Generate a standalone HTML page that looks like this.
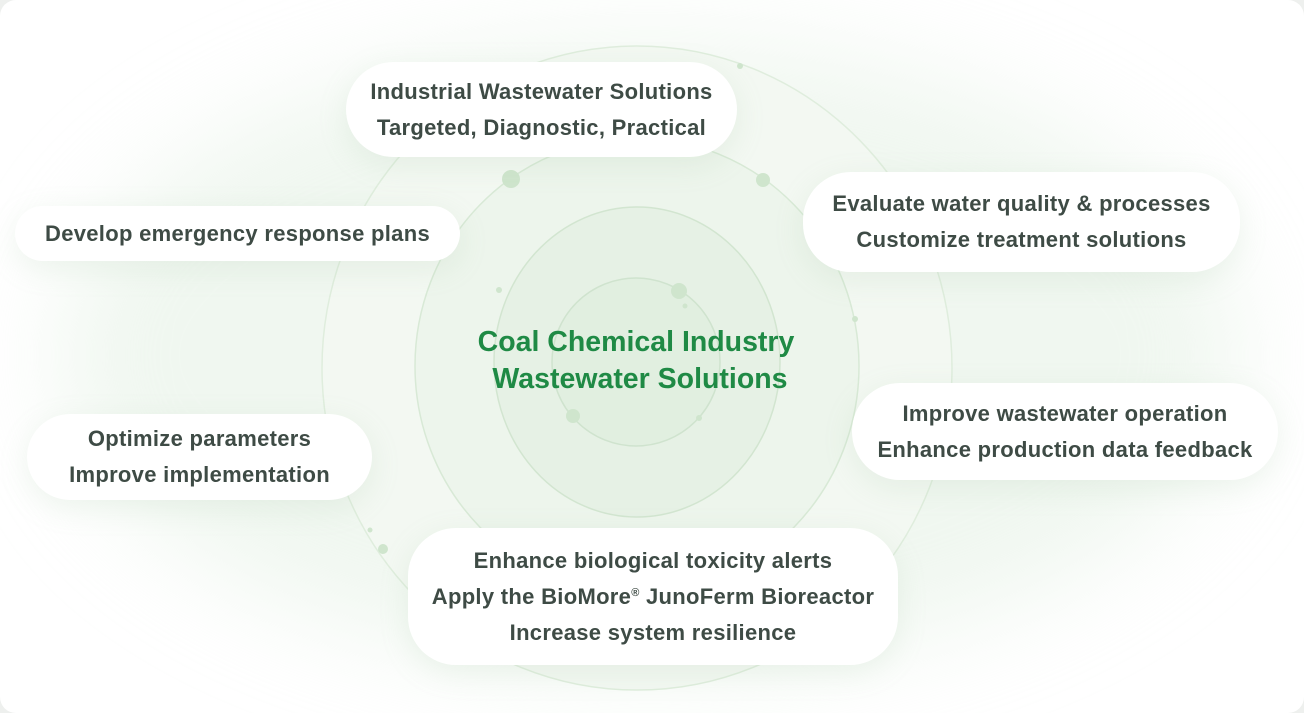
<!DOCTYPE html>
<html><head><meta charset="utf-8"><style>
html,body{margin:0;padding:0;width:1304px;height:713px;overflow:hidden;background:#eef0ee;}
.card{position:absolute;left:0;top:0;width:1304px;height:713px;border-radius:16px;background:#fff;overflow:hidden;}
.glow{position:absolute;border-radius:50%;filter:blur(50px);}
.box{position:absolute;background:#fff;border-radius:48px;box-shadow:0 8px 30px rgba(150,190,150,0.15);display:flex;justify-content:center;align-items:center;font-family:"Liberation Sans",sans-serif;font-weight:bold;font-size:22px;letter-spacing:0.3px;color:#3e4b45;line-height:36px;text-align:center;white-space:nowrap;}
.center{position:absolute;left:386px;top:324px;width:500px;text-align:center;font-family:"Liberation Sans",sans-serif;font-weight:bold;font-size:28.5px;line-height:37px;color:#1f8a45;}
svg{position:absolute;left:0;top:0;}
</style></head><body>
<div class="card">
<div class="glow" style="left:60px;top:40px;width:1180px;height:630px;background:rgba(222,238,222,0.45);"></div>
<svg width="1304" height="713">
<ellipse cx="637" cy="368" rx="315" ry="322" fill="#f3f8f2" stroke="#dfeddd" stroke-width="1.5"/>
<ellipse cx="637" cy="366" rx="222" ry="228" fill="#edf5ec" stroke="#d8e9d6" stroke-width="1.5"/>
<ellipse cx="637" cy="362" rx="143" ry="155" fill="#e6f1e5" stroke="#d2e5d0" stroke-width="1.5"/>
<ellipse cx="636" cy="362" rx="84" ry="84" fill="#e1efe0" stroke="#cfe3ce" stroke-width="1.5"/>
<g fill="#cfe5cd">
<circle cx="740" cy="66" r="3"/><circle cx="511" cy="179" r="9"/><circle cx="763" cy="180" r="7"/>
<circle cx="855" cy="319" r="3"/><circle cx="679" cy="291" r="8"/><circle cx="499" cy="290" r="3"/>
<circle cx="573" cy="416" r="7"/><circle cx="699" cy="418" r="3"/><circle cx="580" cy="598" r="3"/>
<circle cx="383" cy="549" r="5"/><circle cx="370" cy="530" r="2.5"/><circle cx="685" cy="306" r="2.5"/>
</g>
</svg>
<div class="center">Coal Chemical Industry<br>&nbsp;Wastewater Solutions</div>
<div class="box" style="left:346px;top:62px;width:391px;height:95px;"><div>Industrial Wastewater Solutions<br>Targeted, Diagnostic, Practical</div></div>
<div class="box" style="left:15px;top:206px;width:445px;height:55px;"><div>Develop emergency response plans</div></div>
<div class="box" style="left:803px;top:172px;width:437px;height:100px;"><div>Evaluate water quality &amp; processes<br>Customize treatment solutions</div></div>
<div class="box" style="left:27px;top:414px;width:345px;height:86px;"><div>Optimize parameters<br>Improve implementation</div></div>
<div class="box" style="left:852px;top:383px;width:426px;height:97px;"><div>Improve wastewater operation<br>Enhance production data feedback</div></div>
<div class="box" style="left:408px;top:528px;width:490px;height:137px;"><div>Enhance biological toxicity alerts<br>Apply the BioMore<span style="font-size:11px;vertical-align:8px;line-height:0">®</span> JunoFerm Bioreactor<br>Increase system resilience</div></div>
</div>
</body></html>
